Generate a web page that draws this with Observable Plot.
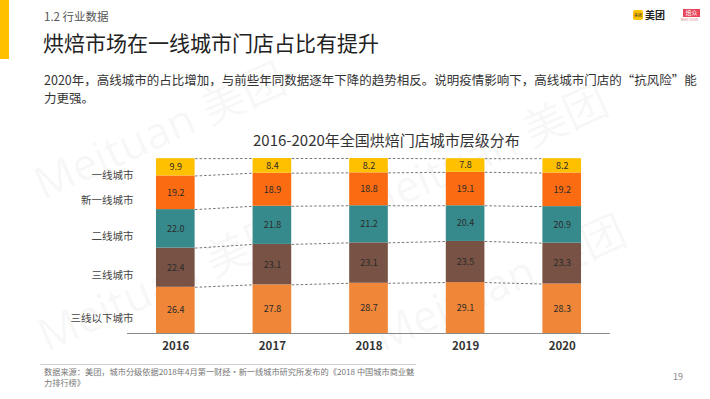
<!DOCTYPE html>
<html>
<head>
<meta charset="utf-8">
<script src="https://cdn.jsdelivr.net/npm/d3@7"></script>
<script src="https://cdn.jsdelivr.net/npm/@observablehq/plot@0.6"></script>
<style>
  html, body { margin: 0; padding: 0; background: #fff; }
  body { width: 710px; height: 399px; position: relative; overflow: hidden;
         font-family: "Noto Sans CJK SC", "Noto Sans", sans-serif; }
  .abs { position: absolute; white-space: nowrap; }
  .wm { position: absolute; font-family: "Noto Sans", "Noto Sans CJK SC", sans-serif; font-size: 44px;
        color: rgba(0,0,0,0.04); transform: rotate(-24deg); transform-origin: left bottom; white-space: nowrap; }
  #chart { position: absolute; left: 0; top: 150px; }
</style>
</head>
<body>
<div class="wm" style="left:48px; top:148px;">Meituan 美团</div>
<div class="wm" style="left:52px; top:300px;">Meituan 美团</div>
<div class="wm" style="left:370px; top:170px;">Meituan 美团</div>
<div class="wm" style="left:388px; top:300px;">Meituan 美团</div>

<div class="abs" style="left:0; top:0; width:9px; height:59px; background:#FFC000;"></div>
<div class="abs" style="left:44px; top:9px; font-size:11.5px; line-height:14px; color:#555;">1.2 行业数据</div>
<div class="abs" style="left:43px; top:31px; font-size:21px; line-height:23px; color:#222;">烘焙市场在一线城市门店占比有提升</div>
<div class="abs" style="left:44px; top:71px; font-size:12.5px; line-height:18px; color:#333;">2020年，高线城市的占比增加，与前些年同数据逐年下降的趋势相反。说明疫情影响下，高线城市门店的“抗风险”能<br>力更强。</div>

<div class="abs" style="left:633px; top:10px; width:10px; height:10px; border-radius:2px; background:#FFC300; font-size:4px; line-height:10px; text-align:center; color:#333;">美团</div>
<div class="abs" style="left:645px; top:8px; font-size:10px; line-height:14px; color:#222; font-weight:bold;">美团</div>
<div class="abs" style="left:683px; top:9px; width:17px; height:8px; background:#E8445A; font-size:6px; line-height:8px; text-align:center; color:#fff;">焙众</div>
<div class="abs" style="left:681px; top:18px; font-size:3px; line-height:4px; color:#d88;">BAKE SHOW</div>

<div class="abs" style="left:253px; top:131px; width:240px; text-align:center; font-size:15px; line-height:18px; color:#333;">2016-2020年全国烘焙门店城市层级分布</div>

<div id="chart"></div>

<div class="abs" style="left:40px; top:364px; width:376px; height:1px; background:#cfcfcf;"></div>
<div class="abs" style="left:44px; top:366px; font-size:8.2px; line-height:11px; color:#777;">数据来源：美团，城市分级依据2018年4月第一财经·新一线城市研究所发布的《2018 中国城市商业魅<br>力排行榜》</div>
<div class="abs" style="left:673px; top:371px; font-size:9px; line-height:11px; color:#888;">19</div>

<script>
// ---- data ----
const years = [2016, 2017, 2018, 2019, 2020];
const tiers = ["一线城市", "新一线城市", "二线城市", "三线城市", "三线以下城市"];
const tier1 = [9.9, 8.4, 8.2, 7.8, 8.2];
const newTier1 = [19.2, 18.9, 18.8, 19.1, 19.2];
const tier2 = [22.0, 21.8, 21.2, 20.4, 20.9];
const tier3 = [22.4, 23.1, 23.1, 23.5, 23.3];
const belowTier3 = [26.4, 27.8, 28.7, 29.1, 28.3];
const colors = ["#FFC000", "#FB6C12", "#378A8C", "#785244", "#EF8638"];

// stacking order: bottom first
const seriesBottomUp = [
  [tiers[4], belowTier3],
  [tiers[3], tier3],
  [tiers[2], tier2],
  [tiers[1], newTier1],
  [tiers[0], tier1]
];

const rows = [];
years.forEach((year, i) => {
  let base = 0;
  for (const [tier, vals] of seriesBottomUp) {
    const v = vals[i];
    rows.push({year, tier, value: v, y1: base, y2: base + v, mid: base + v / 2});
    base += v;
  }
});

const half = 0.2;
const links = [];
for (const [tier] of seriesBottomUp) {
  const rs = rows.filter(r => r.tier === tier);
  for (let i = 0; i < rs.length - 1; i++) {
    links.push({x1: rs[i].year + half, y1: rs[i].y2, x2: rs[i + 1].year - half, y2: rs[i + 1].y2});
  }
}

const chart = Plot.plot({
  width: 710,
  height: 205,
  marginLeft: 127,
  marginRight: 100,
  marginTop: 8,
  marginBottom: 22,
  style: {fontFamily: "'Noto Sans CJK SC', 'Noto Sans', sans-serif", background: "transparent"},
  x: {type: "linear", domain: [2015.5, 2020.5]},
  y: {domain: [0, 100], axis: null},
  color: {domain: tiers, range: colors},
  marks: [
    Plot.link(links, {x1: "x1", y1: "y1", x2: "x2", y2: "y2", stroke: "#666", strokeWidth: 0.9, strokeDasharray: "2.5,2"}),
    Plot.rect(rows, {x1: d => d.year - half, x2: d => d.year + half, y1: "y1", y2: "y2", fill: "tier"}),
    Plot.text(rows, {x: "year", y: "mid", text: d => d.value.toFixed(1), fill: "#2a2a2a", fontSize: 9}),
    Plot.text(rows.filter(r => r.year === years[0]), {x: () => 2015.5, y: "mid", text: "tier", textAnchor: "end", dx: 6, dy: 8, fill: "#444", fontSize: 10.5}),
    Plot.ruleY([0], {stroke: "#8a8a8a", strokeWidth: 1}),
    Plot.axisX(years, {tickSize: 0, tickPadding: 8, tickFormat: d => String(d), fontSize: 11.5, fontWeight: "bold", fill: "#333"})
  ]
});
document.getElementById("chart").appendChild(chart);
</script>
</body>
</html>
